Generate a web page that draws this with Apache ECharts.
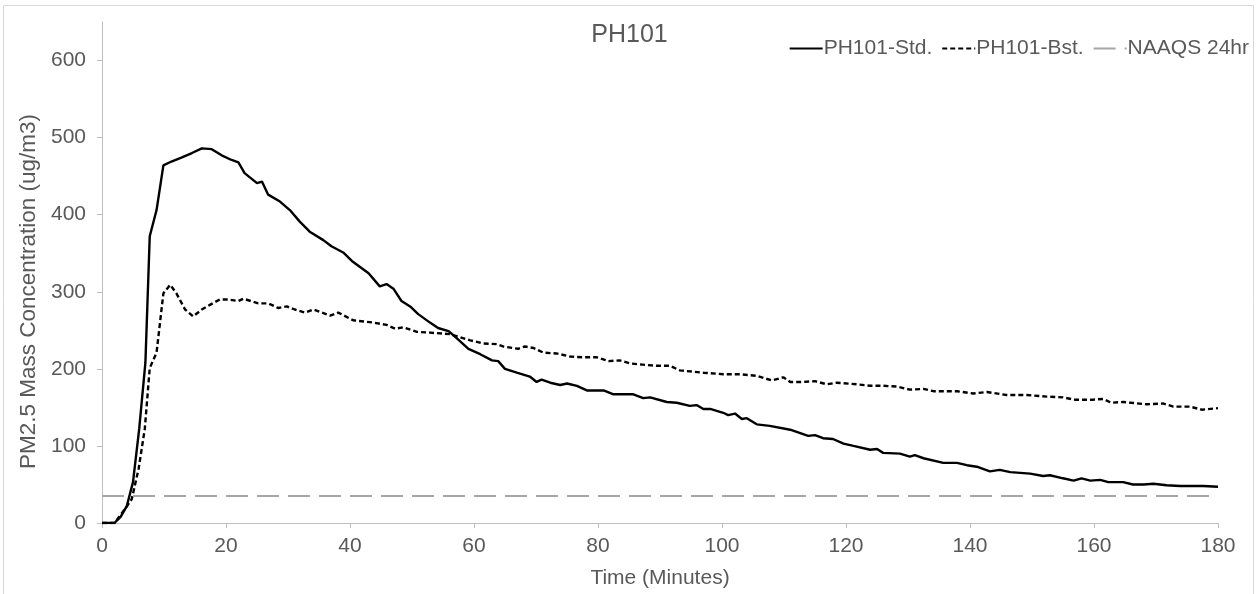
<!DOCTYPE html>
<html>
<head>
<meta charset="utf-8">
<script src="https://cdn.jsdelivr.net/npm/echarts@6/dist/echarts.min.js"></script>
<style>
  html, body { margin: 0; padding: 0; background: #fff; }
  #chart { width: 1259px; height: 594px; }
</style>
</head>
<body>
<div id="chart"></div>
<script>
// readings (minutes, ug/m3)
var stdTime = [0, 2, 3, 4, 5, 6, 7, 7.7, 8.8, 9.9, 11.2, 12.8, 14.5, 16.1, 17.7, 19.3, 20.9, 22, 23, 25, 25.8, 26.8, 28.7, 30.3, 31.9, 33.5, 35.7, 37, 38.9, 40.3, 43, 44.8, 45.9, 47, 48.3, 49.7, 51, 52.9, 54.2, 55.9, 57.2, 59.1, 61, 62.9, 63.9, 65, 66.9, 69, 70.1, 70.9, 72.3, 73.9, 75, 76.6, 78.2, 80.9, 82.5, 85.7, 87.3, 88.4, 91.1, 92.7, 94.8, 95.9, 97, 98.1, 100.2, 101, 102.1, 103.2, 104, 105.6, 107.7, 111, 113.9, 115, 116.3, 117.9, 119.6, 121.2, 123.9, 125, 126, 128.7, 130.3, 131.1, 132.5, 135.7, 137.9, 139.5, 141.1, 143.2, 144.8, 146.5, 149.7, 151.8, 152.9, 155, 156.7, 158, 159.4, 161, 162.3, 164.7, 166.3, 168, 169.6, 171.7, 173.9, 177.6, 180];
var stdVal = [0, 0, 8, 22, 53, 122, 208, 372, 406, 464, 469, 474, 480, 486, 485, 477, 471, 468, 454, 441, 443, 426, 417, 406, 391, 378, 367, 359, 351, 340, 324, 307, 310, 304, 288, 281, 271, 260, 253, 249, 240, 226, 219, 211, 210, 200, 195, 190, 183, 186, 182, 179, 181, 178, 172, 172, 167, 167, 162, 163, 157, 156, 152, 153, 148, 148, 143, 140, 142, 135, 136, 128, 126, 121, 113, 114, 110, 109, 103, 100, 95, 96, 91, 90, 86, 88, 84, 78, 78, 75, 73, 67, 69, 66, 64, 61, 62, 58, 55, 58, 55, 56, 53, 53, 50, 50, 51, 49, 48, 48, 47];

var bstTime = [0, 2, 3.7, 4.8, 5.9, 6.9, 7.7, 8.8, 9.9, 11, 12, 13.4, 14.7, 16.1, 17.4, 19, 20.4, 22, 22.8, 25.2, 26.8, 28.4, 29.8, 31.1, 32.7, 34.1, 36.8, 38.1, 40.5, 43.8, 45.9, 47.3, 48.6, 50.8, 52.9, 56.1, 59.4, 61.5, 63.7, 64.7, 67.1, 68.2, 69.6, 71.2, 73.3, 75.5, 77.6, 79.8, 81.7, 83.5, 85.2, 87.8, 89.5, 91.6, 93.2, 97, 100.2, 102.9, 105.6, 108, 109.9, 111, 113.1, 115, 116.9, 118.5, 121.7, 123.9, 126, 128.2, 130.3, 132.5, 134.1, 137.9, 140.5, 142.7, 145.9, 149.1, 152.4, 155, 156.9, 159.9, 161.5, 162.8, 164.7, 168.5, 171.2, 172.8, 175.5, 177.4, 180];
var bstVal = [0, 0, 18, 31, 70, 122, 201, 221, 298, 309, 298, 277, 268, 277, 283, 290, 290, 288, 291, 285, 285, 279, 281, 277, 273, 277, 269, 273, 263, 260, 257, 252, 254, 248, 247, 245, 237, 233, 232, 229, 226, 229, 227, 221, 220, 216, 215, 215, 210, 211, 207, 205, 204, 204, 198, 195, 193, 193, 191, 185, 189, 183, 183, 184, 180, 182, 180, 178, 178, 177, 173, 174, 171, 171, 168, 170, 166, 166, 164, 163, 160, 160, 161, 156, 157, 154, 155, 151, 151, 147, 149];

var naaqsTime = [0, 180];
var naaqsVal = [35, 35];

var xTicks = [0, 20, 40, 60, 80, 100, 120, 140, 160, 180];
var yTicks = [0, 100, 200, 300, 400, 500, 600];

function pairs(t, v) {
  var out = [];
  for (var i = 0; i < t.length; i++) out.push([t[i], v[i]]);
  return out;
}

var font = "'Liberation Sans', Arial, sans-serif";
var grey = "#595959";

var myChart = echarts.init(document.getElementById("chart"));
var option = {
  animation: false,
  backgroundColor: "#fff",
  title: {
    text: "PH101",
    left: "center",
    top: 18,
    textStyle: { color: grey, fontSize: 25, fontWeight: "normal", fontFamily: font }
  },
  legend: {
    right: 5,
    top: 33,
    itemWidth: 33,
    itemHeight: 14,
    itemGap: 9,
    itemStyle: { opacity: 0 },
    textStyle: { color: grey, fontSize: 21, fontFamily: font, padding: [0, 0, 0, -4] },
    data: ["PH101-Std.", "PH101-Bst.", "NAAQS 24hr"]
  },
  graphic: [
    {
      type: "rect",
      shape: { x: 3.5, y: 5.5, width: 1250, height: 600 },
      style: { fill: "none", stroke: "#d9d9d9", lineWidth: 1 },
      silent: true
    }
  ],
  grid: { left: 102, right: 41, top: 22, bottom: 70 },
  xAxis: {
    type: "value",
    min: 0,
    max: 180,
    interval: 20,
    name: "Time (Minutes)",
    nameLocation: "middle",
    nameGap: 45,
    nameTextStyle: { color: grey, fontSize: 21, fontFamily: font },
    axisLine: { lineStyle: { color: "#bfbfbf", width: 1 } },
    axisTick: { show: true, length: 5, lineStyle: { color: "#bfbfbf" }, customValues: xTicks },
    axisLabel: { color: grey, fontSize: 21, fontFamily: font, margin: 13, customValues: xTicks },
    splitLine: { show: false }
  },
  yAxis: {
    type: "value",
    min: 0,
    max: 650,
    interval: 100,
    name: "PM2.5 Mass Concentration (ug/m3)",
    nameLocation: "middle",
    nameGap: 40,
    nameTextStyle: { color: grey, fontSize: 22.5, fontFamily: font, padding: [0, 38, 0, 0] },
    axisLine: { show: true, lineStyle: { color: "#bfbfbf", width: 1 } },
    axisTick: { show: true, length: 5, lineStyle: { color: "#bfbfbf" }, customValues: yTicks },
    axisLabel: { color: grey, fontSize: 21, fontFamily: font, margin: 16, customValues: yTicks },
    splitLine: { show: false }
  },
  series: [
    {
      name: "PH101-Std.",
      type: "line",
      showSymbol: false,
      symbol: "none",
      data: pairs(stdTime, stdVal),
      itemStyle: { color: "#000" },
      lineStyle: { color: "#000", width: 2.4 }
    },
    {
      name: "PH101-Bst.",
      type: "line",
      showSymbol: false,
      symbol: "none",
      data: pairs(bstTime, bstVal),
      itemStyle: { color: "#000" },
      lineStyle: { color: "#000", width: 2.4, type: [5, 3] }
    },
    {
      name: "NAAQS 24hr",
      type: "line",
      showSymbol: false,
      symbol: "none",
      data: pairs(naaqsTime, naaqsVal),
      itemStyle: { color: "#a6a6a6" },
      lineStyle: { color: "#a6a6a6", width: 2, type: [22, 9] }
    }
  ]
};
myChart.setOption(option);
window.addEventListener("resize", function() {
  myChart.resize();
});
</script>
</body>
</html>
